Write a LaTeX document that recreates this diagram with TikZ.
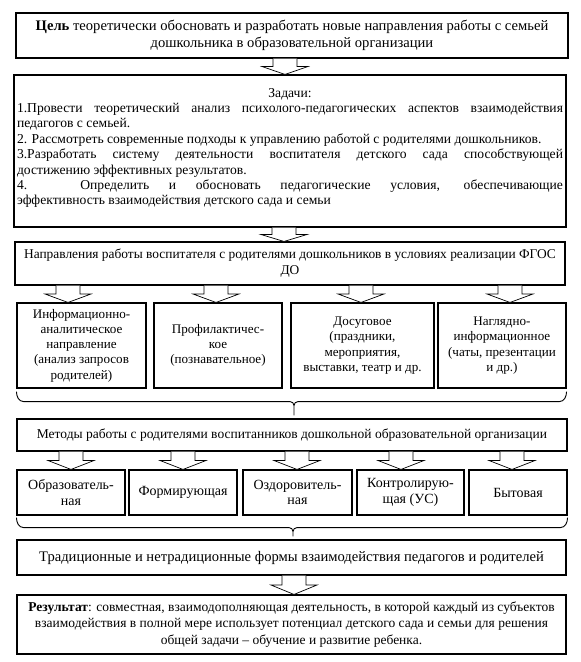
\documentclass[tikz,border=0pt]{standalone}
\usepackage{fontspec}
\setmainfont{Liberation Serif}
\usetikzlibrary{calc}

% hollow block arrow: #1 start on the upper box, #2 tip on the lower box
\newcommand{\hollowarrow}[2]{%
  \draw[hollow] let \p1=#1, \p2=#2, \p3=($#1!.5!#2$) in
    (\x1-12pt,\y1) -- (\x1-12pt,\y3) -- (\x1-23pt,\y3) -- (\x1,\y2)
    -- (\x1+23pt,\y3) -- (\x1+12pt,\y3) -- (\x1+12pt,\y1);}
% brace under a row of boxes: #1 left end, #2 right end, #3 end of the stem
\newcommand{\rowbrace}[3]{%
  \draw[curly] let \p1=#1, \p2=#2, \p3=#3 in
    (\x1,\y1) to[out=-90,in=180] (\x1+7pt,\y1-10pt) -- (\x3-4pt,\y1-10pt)
    to[out=0,in=90] (\x3,\y1-14pt) -- (\x3,\y3)
    (\x2,\y1) to[out=-90,in=0] (\x2-7pt,\y1-10pt) -- (\x3+4pt,\y1-10pt)
    to[out=180,in=90] (\x3,\y1-14pt);}

\begin{document}
\begin{tikzpicture}[x=1pt,y=-1pt]
  \tikzset{
    box/.style={draw=black,line width=1.1pt,align=center,inner sep=2pt,
      font=\fontsize{13.5}{15.3}\selectfont},
    hollow/.style={draw=black,line width=0.7pt,fill=white},
    curly/.style={draw=black,line width=0.9pt},
  }
  \useasboundingbox (0,0) rectangle (581,662);

  \node[box,minimum width=552pt,minimum height=45pt,font=\fontsize{14.6}{17}\selectfont]
    (goal) at (292,35.5) {\textbf{Цель} теоретически обосновать и разработать новые направления работы с семьей\\
    дошкольника в образовательной организации};

  \node[box,inner sep=0pt,minimum width=552pt,minimum height=152pt,font=\fontsize{13.6}{15.4}\selectfont]
    (tasks) at (290,151)
    {\parbox[c][148pt][t]{546pt}{\vspace{11pt}%
    {\centering Задачи:\par}
    1.Провести теоретический анализ психолого-педагогических аспектов взаимодействия\linebreak
    педагогов с семьей.\par
    2. Рассмотреть современные подходы к управлению работой с родителями дошкольников.\par
    3.Разработать систему деятельности воспитателя детского сада способствующей\linebreak
    достижению эффективных результатов.\par
    4. Определить и обосновать педагогические условия, обеспечивающие\linebreak
    эффективность взаимодействия детского сада и семьи}};

  \node[box,minimum width=550pt,minimum height=43pt,font=\fontsize{13.4}{16}\selectfont]
    (dirs) at (290,263.5)
    {Направления работы воспитателя с родителями дошкольников в условиях реализации ФГОС\\ ДО};

  \node[box,minimum width=129pt,minimum height=85pt,font=\fontsize{13.1}{15.3}\selectfont] (d1) at (81.5,345.5)
    {Информационно-\\аналитическое\\направление\\(анализ запросов\\родителей)};
  \node[box,minimum width=128pt,minimum height=85pt,font=\fontsize{13.1}{15.3}\selectfont] (d2) at (218,345.5)
    {Профилактичес-\\кое\\(познавательное)};
  \node[box,minimum width=143pt,minimum height=85pt,font=\fontsize{13.1}{15.3}\selectfont] (d3) at (362.5,345.5)
    {Досуговое\\(праздники,\\мероприятия,\\выставки, театр и др.};
  \node[box,minimum width=128pt,minimum height=85pt,font=\fontsize{13.1}{15.3}\selectfont] (d4) at (502,345.5)
    {Наглядно-\\информационное\\(чаты, презентации\\и др.)};

  \node[box,minimum width=550pt,minimum height=32pt] (meth) at (292,435)
    {Методы работы с родителями воспитанников дошкольной образовательной организации};

  \node[box,minimum width=108pt,minimum height=45pt,font=\fontsize{14}{15.5}\selectfont] (m1) at (71,492.5) {Образователь-\\ная};
  \node[box,minimum width=108pt,minimum height=45pt,font=\fontsize{14}{15.5}\selectfont] (m2) at (183,492.5) {Формирующая};
  \node[box,minimum width=109pt,minimum height=45pt,font=\fontsize{14}{15.5}\selectfont] (m3) at (297.5,492.5) {Оздоровитель-\\ная};
  \node[box,minimum width=107pt,minimum height=45pt,font=\fontsize{14}{15.5}\selectfont] (m4) at (410.5,492.5) {Контролирую-\\щая (УС)};
  \node[box,minimum width=98pt,minimum height=45pt,font=\fontsize{14}{15.5}\selectfont] (m5) at (518,492.5) {Бытовая};

  \node[box,minimum width=549pt,minimum height=35pt,font=\fontsize{14.6}{16}\selectfont]
    (trad) at (291.5,557.5) {Традиционные и нетрадиционные формы взаимодействия педагогов и родителей};

  \node[box,minimum width=549pt,minimum height=59pt,font=\fontsize{13.5}{16.5}\selectfont]
    (res) at (291.5,624.5) {\textbf{Результат}: совместная, взаимодополняющая деятельность, в которой каждый из субъектов\\
    взаимодействия в полной мере использует потенциал детского сада и семьи для решения\\
    общей задачи – обучение и развитие ребенка.};

  \hollowarrow{(goal.south -| 285,0)}{(tasks.north -| 285,0)}
  \hollowarrow{(tasks.south -| 284,0)}{(dirs.north -| 284,0)}
  \hollowarrow{(dirs.south -| 68,0)}{(d1.north -| 68,0)}
  \hollowarrow{(dirs.south -| 216,0)}{(d2.north -| 216,0)}
  \hollowarrow{(dirs.south -| 361,0)}{(d3.north -| 361,0)}
  \hollowarrow{(dirs.south -| 510,0)}{(d4.north -| 510,0)}
  \rowbrace{($(d1.south west)+(0,3)$)}{($(d4.south east)+(0,3)$)}{($(meth.north -| 294,0)+(0,-3)$)}
  \hollowarrow{(meth.south -| 71,0)}{(m1.north -| 71,0)}
  \hollowarrow{(meth.south -| 183,0)}{(m2.north -| 183,0)}
  \hollowarrow{(meth.south -| 297,0)}{(m3.north -| 297,0)}
  \hollowarrow{(meth.south -| 401,0)}{(m4.north -| 401,0)}
  \hollowarrow{(meth.south -| 512,0)}{(m5.north -| 512,0)}
  \rowbrace{($(m1.south west)+(0,2)$)}{($(m5.south east)+(0,2)$)}{($(trad.north -| 293,0)+(0,-3)$)}
  \hollowarrow{(trad.south -| 294,0)}{(res.north -| 294,0)}
\end{tikzpicture}
\end{document}
